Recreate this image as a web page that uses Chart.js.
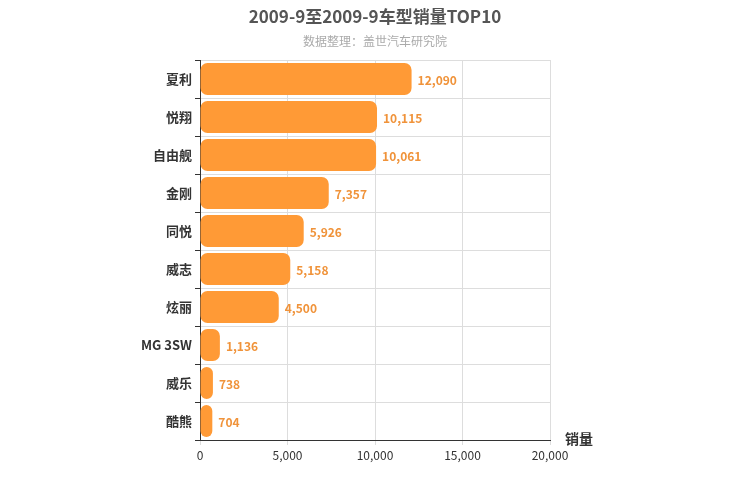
<!DOCTYPE html>
<html><head><meta charset="utf-8">
<script src="https://cdn.jsdelivr.net/npm/chart.js@4"></script>
<style>body{margin:0;background:#fff}#w{width:750px;height:500px}</style>
</head><body><div id="w"><canvas id="c"></canvas></div>
<script>
const categories = ["夏利","悦翔","自由舰","金刚","同悦","威志","炫丽","MG 3SW","威乐","酷熊"];
const sales = [12090,10115,10061,7357,5926,5158,4500,1136,738,704];
const xTicks = [0,5000,10000,15000,20000];
const titleText = "2009-9至2009-9车型销量TOP10";
const subtitleText = "数据整理：盖世汽车研究院";
const axisName = "销量";
const FONT = "'Noto Sans CJK SC', 'Liberation Sans', sans-serif";

const deco = {
  id: 'deco',
  afterDatasetsDraw(chart) {
    const ctx = chart.ctx;
    ctx.save();
    ctx.textAlign = 'center'; ctx.textBaseline = 'middle';
    ctx.fillStyle = '#555'; ctx.font = 'bold 17px ' + FONT;
    ctx.fillText(titleText, 375, 17);
    ctx.fillStyle = '#aaa'; ctx.font = '12px ' + FONT;
    ctx.fillText(subtitleText, 375, 41);
    ctx.fillStyle = '#333'; ctx.font = 'bold 14px ' + FONT;
    ctx.textAlign = 'left';
    ctx.fillText(axisName, 565, 439);
    const meta = chart.getDatasetMeta(0);
    ctx.fillStyle = '#f0933a'; ctx.font = 'bold 12px ' + FONT;
    meta.data.forEach((b, i) => {
      ctx.fillText(sales[i].toLocaleString('en-US'), b.x + 6, b.y + 1);
    });
    ctx.restore();
  }
};

new Chart(document.getElementById('c'), {
  type: 'bar',
  data: { labels: categories, datasets: [{ data: sales, backgroundColor: '#ff9a36', borderRadius: 7, borderSkipped: false, barPercentage: 0.84, categoryPercentage: 1 }] },
  options: {
    indexAxis: 'y', responsive: true, maintainAspectRatio: false, animation: false,
    layout: { padding: { top: 60, right: 200, left: 0, bottom: 0 } },
    plugins: { legend: { display: false }, tooltip: { enabled: false } },
    scales: {
      x: { min: 0, max: 20000,
        afterBuildTicks(s) { s.ticks = xTicks.map(v => ({ value: v })); },
        afterFit(s) { s.height = 60; },
        grid: { color: '#ddd', drawTicks: true, tickLength: 5 },
        border: { color: '#333' },
        ticks: { color: '#333', font: { size: 12, family: FONT }, callback: v => v.toLocaleString('en-US') } },
      y: { afterFit(s) { s.width = 200; },
        grid: { color: '#ddd', tickLength: 5, tickColor: '#333' },
        border: { color: '#333' },
        ticks: { color: '#333', font: { size: 13, weight: 'bold', family: FONT } } }
    }
  },
  plugins: [deco]
});
</script></body></html>
